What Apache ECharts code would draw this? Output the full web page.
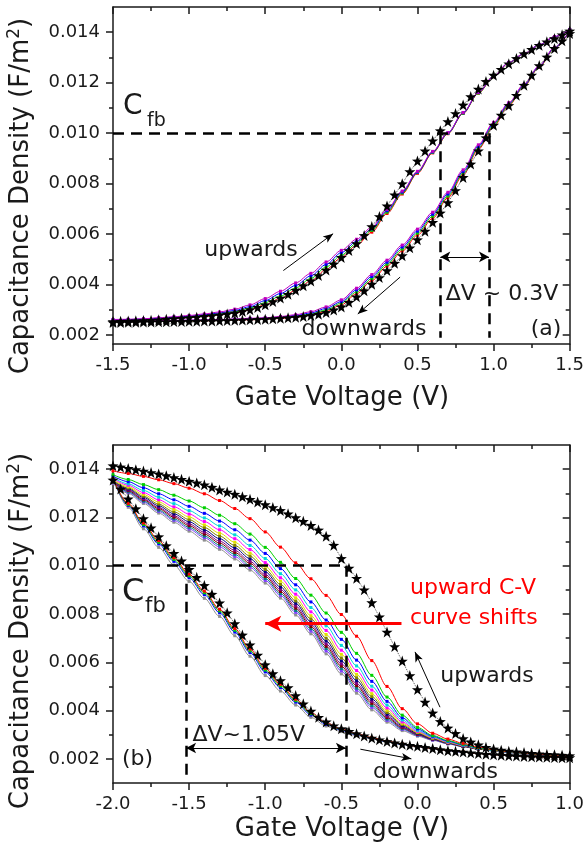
<!DOCTYPE html>
<html>
<head>
<meta charset="utf-8">
<title>C-V hysteresis</title>
<script src="https://cdn.jsdelivr.net/npm/echarts@6/dist/echarts.min.js"></script>
<style>
  html, body { margin: 0; padding: 0; background: #fff; }
  #chart { width: 587px; height: 854px; }
</style>
</head>
<body>
<div id="chart"></div>
<script>
// gate voltage grids (V)
const vA10 = [-1.5,-1.4,-1.3,-1.2,-1.1,-1.0,-0.9,-0.8,-0.7,-0.6,-0.5,-0.4,-0.3,-0.2,-0.1,0,0.1,0.2,0.3,0.4,0.5,0.6,0.7,0.8,0.9,1.0,1.1,1.2,1.3,1.4,1.5]
const vA05 = [-1.5,-1.45,-1.4,-1.35,-1.3,-1.25,-1.2,-1.15,-1.1,-1.05,-1,-0.95,-0.9,-0.85,-0.8,-0.75,-0.7,-0.65,-0.6,-0.55,-0.5,-0.45,-0.4,-0.35,-0.3,-0.25,-0.2,-0.15,-0.1,-0.05,0,0.05,0.1,0.15,0.2,0.25,0.3,0.35,0.4,0.45,0.5,0.55,0.6,0.65,0.7,0.75,0.8,0.85,0.9,0.95,1,1.05,1.1,1.15,1.2,1.25,1.3,1.35,1.4,1.45,1.5]
const vB10 = [-2.0,-1.9,-1.8,-1.7,-1.6,-1.5,-1.4,-1.3,-1.2,-1.1,-1.0,-0.9,-0.8,-0.7,-0.6,-0.5,-0.4,-0.3,-0.2,-0.1,0,0.1,0.2,0.3,0.4,0.5,0.6,0.7,0.8,0.9,1.0]
const vB05 = [-2,-1.95,-1.9,-1.85,-1.8,-1.75,-1.7,-1.65,-1.6,-1.55,-1.5,-1.45,-1.4,-1.35,-1.3,-1.25,-1.2,-1.15,-1.1,-1.05,-1,-0.95,-0.9,-0.85,-0.8,-0.75,-0.7,-0.65,-0.6,-0.55,-0.5,-0.45,-0.4,-0.35,-0.3,-0.25,-0.2,-0.15,-0.1,-0.05,0,0.05,0.1,0.15,0.2,0.25,0.3,0.35,0.4,0.45,0.5,0.55,0.6,0.65,0.7,0.75,0.8,0.85,0.9,0.95,1]

// panel (a): stars
const upStarA = [0.00254,0.00255,0.00256,0.00257,0.00258,0.00259,0.00261,0.00263,0.00265,0.00267,0.00269,0.00271,0.00274,0.00277,0.00280,0.00284,0.00288,0.00294,0.00301,0.00310,0.00320,0.00333,0.00347,0.00362,0.00378,0.00396,0.00415,0.00436,0.00458,0.00482,0.00508,0.00535,0.00563,0.00595,0.00630,0.00670,0.00712,0.00756,0.00800,0.00848,0.00890,0.00930,0.00970,0.01010,0.01046,0.01078,0.01112,0.01145,0.01175,0.01205,0.01230,0.01253,0.01275,0.01296,0.01315,0.01332,0.01348,0.01362,0.01375,0.01390,0.01405]
const dnStarA = [0.00250,0.00250,0.00251,0.00251,0.00252,0.00252,0.00253,0.00253,0.00254,0.00254,0.00255,0.00255,0.00256,0.00256,0.00257,0.00258,0.00259,0.00260,0.00261,0.00262,0.00263,0.00265,0.00267,0.00269,0.00271,0.00274,0.00278,0.00283,0.00290,0.00300,0.00312,0.00330,0.00352,0.00376,0.00402,0.00428,0.00456,0.00485,0.00515,0.00546,0.00578,0.00612,0.00647,0.00684,0.00725,0.00773,0.00825,0.00878,0.00930,0.00982,0.01032,0.01072,0.01110,0.01150,0.01190,0.01230,0.01268,0.01302,0.01336,0.01366,0.01395]
// panel (a): repeated sweeps, upward branch
const upRedA = [0.00258,0.00259,0.00261,0.00263,0.00267,0.00270,0.00274,0.00280,0.00287,0.00300,0.00321,0.00346,0.00377,0.00415,0.00460,0.00508,0.00556,0.00608,0.00682,0.00759,0.00841,0.00922,0.00998,0.01078,0.01158,0.01224,0.01279,0.01314,0.01349,0.01381,0.01410]
const upGreenA = [0.00259,0.00260,0.00262,0.00265,0.00269,0.00273,0.00277,0.00284,0.00292,0.00307,0.00329,0.00355,0.00387,0.00425,0.00470,0.00517,0.00564,0.00615,0.00687,0.00763,0.00844,0.00924,0.00999,0.01079,0.01159,0.01225,0.01280,0.01315,0.01350,0.01382,0.01410]
const upBlueA = [0.00261,0.00262,0.00264,0.00267,0.00271,0.00275,0.00281,0.00288,0.00298,0.00313,0.00337,0.00365,0.00397,0.00435,0.00480,0.00527,0.00572,0.00621,0.00693,0.00767,0.00846,0.00926,0.01001,0.01081,0.01161,0.01225,0.01280,0.01315,0.01350,0.01382,0.01410]
const upPurpA = [0.00262,0.00263,0.00265,0.00269,0.00273,0.00278,0.00284,0.00292,0.00303,0.00320,0.00345,0.00374,0.00407,0.00445,0.00490,0.00536,0.00580,0.00628,0.00698,0.00771,0.00849,0.00928,0.01002,0.01082,0.01162,0.01226,0.01281,0.01316,0.01351,0.01383,0.01410]
// panel (a): repeated sweeps, downward branch
const dnRedA = [0.00253,0.00253,0.00254,0.00254,0.00255,0.00256,0.00257,0.00258,0.00260,0.00261,0.00263,0.00266,0.00271,0.00279,0.00294,0.00320,0.00364,0.00416,0.00473,0.00533,0.00596,0.00663,0.00744,0.00835,0.00936,0.01027,0.01109,0.01186,0.01262,0.01336,0.01404]
const dnGreenA = [0.00254,0.00254,0.00255,0.00255,0.00256,0.00257,0.00258,0.00259,0.00261,0.00263,0.00265,0.00269,0.00274,0.00284,0.00300,0.00327,0.00371,0.00424,0.00481,0.00541,0.00604,0.00671,0.00751,0.00842,0.00942,0.01032,0.01113,0.01189,0.01264,0.01337,0.01405]
const dnBlueA = [0.00256,0.00256,0.00257,0.00257,0.00258,0.00259,0.00260,0.00261,0.00263,0.00265,0.00267,0.00271,0.00278,0.00288,0.00306,0.00333,0.00379,0.00432,0.00489,0.00549,0.00612,0.00679,0.00759,0.00848,0.00948,0.01038,0.01117,0.01191,0.01266,0.01339,0.01405]
const dnPurpA = [0.00257,0.00257,0.00258,0.00258,0.00259,0.00260,0.00261,0.00262,0.00264,0.00267,0.00269,0.00274,0.00281,0.00293,0.00312,0.00340,0.00386,0.00440,0.00497,0.00557,0.00620,0.00687,0.00766,0.00855,0.00954,0.01043,0.01121,0.01194,0.01268,0.01340,0.01406]

// panel (b): stars
const upStarB = [0.01414,0.01409,0.01403,0.01398,0.01392,0.01386,0.01380,0.01373,0.01365,0.01358,0.01350,0.01343,0.01335,0.01325,0.01314,0.01305,0.01296,0.01286,0.01275,0.01264,0.01253,0.01241,0.01229,0.01215,0.01199,0.01184,0.01167,0.01148,0.01122,0.01085,0.01030,0.00990,0.00948,0.00900,0.00847,0.00788,0.00725,0.00665,0.00605,0.00545,0.00487,0.00435,0.00390,0.00355,0.00328,0.00305,0.00284,0.00270,0.00258,0.00248,0.00241,0.00236,0.00232,0.00229,0.00226,0.00223,0.00221,0.00219,0.00217,0.00215,0.00213]
const dnStarB = [0.01355,0.01318,0.01277,0.01236,0.01195,0.01157,0.01120,0.01083,0.01051,0.01020,0.00985,0.00952,0.00918,0.00882,0.00846,0.00805,0.00760,0.00713,0.00672,0.00630,0.00590,0.00553,0.00524,0.00495,0.00462,0.00428,0.00398,0.00372,0.00353,0.00337,0.00325,0.00314,0.00304,0.00295,0.00286,0.00279,0.00272,0.00266,0.00261,0.00256,0.00252,0.00247,0.00243,0.00238,0.00234,0.00231,0.00228,0.00225,0.00222,0.00219,0.00217,0.00215,0.00213,0.00212,0.00210,0.00209,0.00208,0.00207,0.00206,0.00205,0.00205]
// panel (b): upward sweeps drifting left, first (red) to last (gray)
const upRedB = [0.01393,0.01382,0.01370,0.01356,0.01340,0.01321,0.01298,0.01270,0.01237,0.01195,0.01140,0.01077,0.01012,0.00946,0.00877,0.00798,0.00708,0.00607,0.00500,0.00408,0.00345,0.00306,0.00282,0.00264,0.00249,0.00238,0.00230,0.00224,0.00219,0.00215,0.00212]
const upGreenB = [0.01377,0.01357,0.01336,0.01315,0.01292,0.01268,0.01240,0.01209,0.01174,0.01131,0.01076,0.01014,0.00947,0.00878,0.00804,0.00724,0.00637,0.00546,0.00456,0.00381,0.00330,0.00297,0.00276,0.00260,0.00246,0.00236,0.00229,0.00223,0.00218,0.00214,0.00211]
const upBlueB = [0.01371,0.01348,0.01323,0.01298,0.01273,0.01246,0.01217,0.01185,0.01149,0.01106,0.01051,0.00988,0.00921,0.00850,0.00775,0.00695,0.00609,0.00521,0.00438,0.00370,0.00324,0.00294,0.00274,0.00258,0.00245,0.00236,0.00228,0.00223,0.00218,0.00214,0.00211]
const upCyanB = [0.01365,0.01339,0.01312,0.01284,0.01257,0.01228,0.01198,0.01165,0.01128,0.01084,0.01030,0.00967,0.00900,0.00827,0.00751,0.00670,0.00585,0.00501,0.00423,0.00361,0.00318,0.00291,0.00272,0.00257,0.00244,0.00235,0.00228,0.00222,0.00218,0.00214,0.00211]
const upMagB = [0.01361,0.01333,0.01303,0.01273,0.01244,0.01214,0.01183,0.01149,0.01112,0.01067,0.01013,0.00950,0.00882,0.00809,0.00732,0.00650,0.00566,0.00485,0.00411,0.00353,0.00314,0.00289,0.00270,0.00256,0.00244,0.00235,0.00228,0.00222,0.00218,0.00214,0.00211]
const upYelB = [0.01357,0.01327,0.01295,0.01264,0.01233,0.01202,0.01169,0.01135,0.01097,0.01052,0.00998,0.00936,0.00867,0.00793,0.00715,0.00633,0.00550,0.00470,0.00401,0.00347,0.00311,0.00287,0.00269,0.00255,0.00243,0.00235,0.00227,0.00222,0.00218,0.00214,0.00211]
const upOliveB = [0.01354,0.01322,0.01288,0.01255,0.01223,0.01191,0.01158,0.01123,0.01084,0.01040,0.00985,0.00923,0.00854,0.00780,0.00700,0.00618,0.00536,0.00458,0.00392,0.00342,0.00308,0.00285,0.00267,0.00254,0.00242,0.00234,0.00227,0.00222,0.00218,0.00214,0.00211]
const upNavyB = [0.01352,0.01318,0.01283,0.01248,0.01215,0.01182,0.01148,0.01112,0.01074,0.01029,0.00975,0.00912,0.00844,0.00768,0.00688,0.00606,0.00524,0.00448,0.00385,0.00337,0.00305,0.00283,0.00266,0.00253,0.00242,0.00234,0.00227,0.00222,0.00217,0.00213,0.00210]
const upPurpB = [0.01349,0.01314,0.01277,0.01241,0.01207,0.01173,0.01139,0.01102,0.01064,0.01018,0.00964,0.00902,0.00833,0.00757,0.00676,0.00594,0.00512,0.00438,0.00377,0.00332,0.00303,0.00282,0.00265,0.00252,0.00242,0.00234,0.00227,0.00222,0.00217,0.00213,0.00210]
const upWineB = [0.01347,0.01311,0.01273,0.01236,0.01201,0.01166,0.01131,0.01094,0.01055,0.01010,0.00956,0.00893,0.00824,0.00748,0.00666,0.00584,0.00503,0.00430,0.00371,0.00329,0.00301,0.00281,0.00265,0.00252,0.00241,0.00234,0.00227,0.00221,0.00217,0.00213,0.00210]
const upTealB = [0.01345,0.01307,0.01268,0.01230,0.01194,0.01159,0.01123,0.01086,0.01047,0.01001,0.00947,0.00885,0.00815,0.00739,0.00657,0.00574,0.00493,0.00421,0.00365,0.00325,0.00299,0.00280,0.00264,0.00251,0.00241,0.00233,0.00226,0.00221,0.00217,0.00213,0.00210]
const upVioB = [0.01343,0.01304,0.01264,0.01225,0.01188,0.01152,0.01116,0.01078,0.01038,0.00993,0.00939,0.00877,0.00807,0.00729,0.00647,0.00564,0.00484,0.00413,0.00359,0.00322,0.00297,0.00278,0.00263,0.00251,0.00240,0.00233,0.00226,0.00221,0.00217,0.00213,0.00210]
const upGrayB = [0.01340,0.01300,0.01258,0.01218,0.01180,0.01143,0.01106,0.01068,0.01028,0.00982,0.00928,0.00866,0.00796,0.00718,0.00635,0.00552,0.00472,0.00403,0.00352,0.00317,0.00294,0.00277,0.00262,0.00250,0.00240,0.00233,0.00226,0.00221,0.00217,0.00213,0.00210]
// panel (b): downward sweeps
const dnRedB = [0.01360,0.01258,0.01177,0.01104,0.01033,0.00965,0.00895,0.00820,0.00740,0.00655,0.00575,0.00509,0.00447,0.00392,0.00350,0.00323,0.00304,0.00288,0.00273,0.00262,0.00251,0.00243,0.00235,0.00229,0.00222,0.00217,0.00213,0.00210,0.00208,0.00206,0.00204]
const dnGreenB = [0.01360,0.01254,0.01171,0.01097,0.01026,0.00958,0.00888,0.00813,0.00733,0.00648,0.00568,0.00502,0.00441,0.00387,0.00347,0.00321,0.00302,0.00287,0.00272,0.00261,0.00251,0.00243,0.00235,0.00229,0.00222,0.00217,0.00213,0.00210,0.00208,0.00206,0.00204]
const dnBlueB = [0.01360,0.01250,0.01165,0.01090,0.01018,0.00950,0.00880,0.00805,0.00725,0.00640,0.00560,0.00495,0.00435,0.00382,0.00343,0.00318,0.00300,0.00285,0.00271,0.00260,0.00250,0.00242,0.00234,0.00228,0.00222,0.00217,0.00213,0.00210,0.00208,0.00206,0.00204]
const dnGrayB = [0.01360,0.01242,0.01153,0.01076,0.01003,0.00935,0.00865,0.00790,0.00710,0.00625,0.00545,0.00481,0.00423,0.00372,0.00336,0.00313,0.00296,0.00282,0.00269,0.00258,0.00249,0.00241,0.00233,0.00227,0.00222,0.00217,0.00213,0.00210,0.00208,0.00206,0.00204]

// axis ticks
const yMajor = [0.002, 0.004, 0.006, 0.008, 0.010, 0.012, 0.014]
const yMinor = [0.003, 0.005, 0.007, 0.009, 0.011, 0.013]

// read-off values used by the annotations
const cfb = 0.010
const vA1 = 0.65, vA2 = 0.97
const vB1 = -1.52, vB2 = -0.47

const FONT = '"DejaVu Sans", sans-serif'
const INK = '#1a1a1a'
const RED = '#ff0000'
const STAR = 'path://M0,-10L2.35,-3.24L9.51,-3.09L3.8,1.24L5.88,8.09L0,4L-5.88,8.09L-3.8,1.24L-9.51,-3.09L-2.35,-3.24Z'

const chart = echarts.init(document.getElementById('chart'))

const pairs = (xs, ys) => xs.map((v, i) => [v, ys[i]])

// 一条彩色扫描曲线
const curve = (g, xs, ys, color) => ({
  type: 'line', xAxisIndex: g * 2, yAxisIndex: g * 4,
  data: pairs(xs, ys), smooth: 0.3, smoothMonotone: 'x',
  symbol: 'rect', symbolSize: 3,
  lineStyle: { color, width: 1 }, itemStyle: { color },
  silent: true, z: 2
})
// 星号曲线（首次扫描）
const stars = (g, xs, ys) => ({
  type: 'line', xAxisIndex: g * 2, yAxisIndex: g * 4,
  data: pairs(xs, ys), symbol: STAR, symbolSize: 11,
  lineStyle: { color: '#555', width: 1, type: 'dotted' },
  itemStyle: { color: '#000' }, silent: true, z: 4
})
// 标注线 (dashed guides / arrows), drawn in data coordinates
const guides = (g, lines, style) => ({
  type: 'line', xAxisIndex: g * 2, yAxisIndex: g * 4, data: [], silent: true, z: 5,
  markLine: { silent: true, animation: false, symbol: 'none', label: { show: false },
    lineStyle: style, emphasis: { disabled: true }, data: lines }
})
const seg = (x1, y1, x2, y2) => [{ coord: [x1, y1] }, { coord: [x2, y2] }]
const arrow = (x1, y1, x2, y2, size) => [{ coord: [x1, y1], symbol: 'none' }, { coord: [x2, y2], symbol: 'arrow', symbolSize: size }]
const both = (x1, y1, x2, y2, size) => [{ coord: [x1, y1], symbol: 'arrow', symbolSize: size }, { coord: [x2, y2], symbol: 'arrow', symbolSize: size }]

const axisLine = { onZero: false, lineStyle: { color: INK, width: 1.5 } }
const noLine = { show: false, onZero: false }
const tickLine = { color: INK, width: 1.5 }

const xAxes = (g, min, max) => {
  const base = { gridIndex: g, type: 'value', min, max, interval: 0.5, splitLine: { show: false }, axisLine,
    minorTick: { show: true, splitNumber: 2, length: 4, lineStyle: tickLine } }
  return [
    Object.assign({}, base, { position: 'bottom',
      axisTick: { length: 7, lineStyle: tickLine },
      axisLabel: { margin: 12, color: INK, fontSize: 18, fontFamily: FONT, formatter: v => v.toFixed(1) } }),
    Object.assign({}, base, { position: 'top',
      axisTick: { inside: true, length: 7, lineStyle: tickLine }, axisLabel: { show: false } })
  ]
}
const yAxes = (g, min, max) => {
  const base = { gridIndex: g, type: 'value', min, max, splitLine: { show: false } }
  const tick = (vals, len, inside) => ({ customValues: vals, length: len, inside, lineStyle: tickLine })
  return [
    Object.assign({}, base, { position: 'left', axisLine, axisTick: tick(yMajor, 7, false),
      axisLabel: { customValues: yMajor, margin: 13, color: INK, fontSize: 18, fontFamily: FONT, formatter: v => v.toFixed(3) } }),
    Object.assign({}, base, { position: 'left', axisLine: noLine, axisTick: tick(yMinor, 4, false), axisLabel: { show: false } }),
    Object.assign({}, base, { position: 'right', axisLine, axisTick: tick(yMajor, 7, true), axisLabel: { show: false } }),
    Object.assign({}, base, { position: 'right', axisLine: noLine, axisTick: tick(yMinor, 4, true), axisLabel: { show: false } })
  ]
}

const txt = (x, y, text, size, align, color, extra) => Object.assign({
  type: 'text', x, y, silent: true,
  style: { text, font: size + 'px ' + FONT, fill: color || INK, textAlign: align || 'center', textVerticalAlign: 'middle' }
}, extra || {})
// 纵轴标题（带上标）
const yTitle = (x, y) => ({
  type: 'text', x, y, rotation: Math.PI / 2, silent: true,
  style: {
    text: '{a|Capacitance Density (F/m}{s|2}{a|)}',
    textAlign: 'center', textVerticalAlign: 'middle', fill: INK,
    rich: {
      a: { fontSize: 26, fontFamily: FONT, fill: INK, lineHeight: 30 },
      s: { fontSize: 17, fontFamily: FONT, fill: INK, verticalAlign: 'top', lineHeight: 30 }
    }
  }
})

const thin = { color: '#000', width: 1, type: 'solid' }
const dash = { color: '#000', width: 2.5, type: [11, 7] }

const series = [
  // (a)
  curve(0, vA10, upRedA, '#ff0000'), curve(0, vA10, upGreenA, '#00d000'),
  curve(0, vA10, upBlueA, '#0000ff'), curve(0, vA10, upPurpA, '#c000c0'),
  curve(0, vA10, dnRedA, '#ff0000'), curve(0, vA10, dnGreenA, '#00d000'),
  curve(0, vA10, dnBlueA, '#0000ff'), curve(0, vA10, dnPurpA, '#c000c0'),
  stars(0, vA05, upStarA), stars(0, vA05, dnStarA),
  // (b)
  curve(1, vB10, upGrayB, '#909090'), curve(1, vB10, upVioB, '#8040ff'),
  curve(1, vB10, upTealB, '#008080'), curve(1, vB10, upWineB, '#800000'),
  curve(1, vB10, upPurpB, '#800080'), curve(1, vB10, upNavyB, '#000080'),
  curve(1, vB10, upOliveB, '#808000'), curve(1, vB10, upYelB, '#e0e000'),
  curve(1, vB10, upMagB, '#ff00ff'), curve(1, vB10, upCyanB, '#00d8d8'),
  curve(1, vB10, upBlueB, '#0000ff'), curve(1, vB10, upGreenB, '#00d000'),
  curve(1, vB10, upRedB, '#ff0000'),
  curve(1, vB10, dnGrayB, '#909090'), curve(1, vB10, dnBlueB, '#0000ff'),
  curve(1, vB10, dnGreenB, '#00d000'), curve(1, vB10, dnRedB, '#ff0000'),
  stars(1, vB05, upStarB), stars(1, vB05, dnStarB),
  // guides (a)
  guides(0, [seg(-1.5, cfb, vA2, cfb), seg(vA1, cfb, vA1, 0.0019), seg(vA2, cfb, vA2, 0.0019)], dash),
  guides(0, [both(vA1, 0.0051, vA2, 0.0051, [8, 10]),
    arrow(-0.381, 0.00456, -0.054, 0.00602, [6, 10]),
    arrow(0.386, 0.0043, 0.108, 0.00284, [6, 10])], thin),
  // guides (b)
  guides(1, [seg(-2, cfb, vB2, cfb), seg(vB1, cfb, vB1, 0.0013), seg(vB2, cfb, vB2, 0.0013)], dash),
  guides(1, [both(vB1, 0.00245, vB2, 0.00245, [8, 10]),
    arrow(0.148, 0.00414, -0.016, 0.00643, [6, 10]),
    arrow(-0.375, 0.0024, -0.04, 0.0020, [6, 10])], thin),
  guides(1, [arrow(-0.105, 0.0076, -1.0, 0.0076, [12, 16])], { color: RED, width: 3, type: 'solid' })
]

chart.setOption({
  animation: false,
  backgroundColor: '#fff',
  grid: [
    { left: 113, top: 7, width: 458, height: 337 },
    { left: 113, top: 445, width: 459, height: 338 }
  ],
  xAxis: [].concat(xAxes(0, -1.5, 1.5), xAxes(1, -2, 1)),
  yAxis: [].concat(yAxes(0, 0.00165, 0.015), yAxes(1, 0.001, 0.015)),
  series,
  graphic: [
    // (a)
    yTitle(21, 196),
    txt(342, 398, 'Gate Voltage (V)', 26),
    txt(123, 107, 'C', 28, 'left'),
    txt(147, 121, 'fb', 19, 'left'),
    txt(251, 250, 'upwards', 22),
    txt(364, 329, 'downwards', 22),
    txt(502, 294, 'ΔV ~ 0.3V', 22),
    txt(546, 329, '(a)', 22),
    // (b)
    yTitle(21, 631),
    txt(342, 829, 'Gate Voltage (V)', 26),
    txt(122, 593, 'C', 32, 'left'),
    txt(145, 607, 'fb', 21, 'left'),
    txt(122, 759, '(b)', 22, 'left'),
    txt(305, 735, 'ΔV~1.05V', 22, 'right'),
    txt(410, 588, 'upward C-V', 22, 'left', RED),
    txt(410, 618, 'curve shifts', 22, 'left', RED),
    txt(487, 676, 'upwards', 22),
    txt(373, 772, 'downwards', 22, 'left')
  ]
})
</script>
</body>
</html>
